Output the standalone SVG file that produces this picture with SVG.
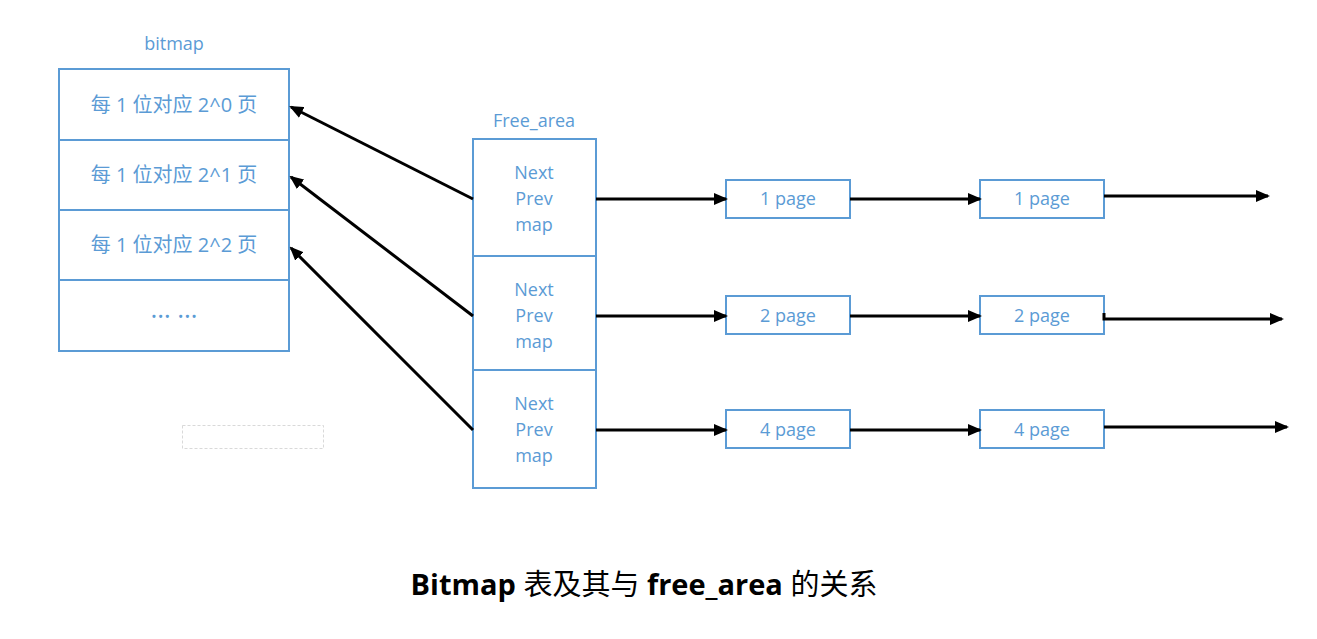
<svg xmlns="http://www.w3.org/2000/svg" width="1317" height="639" viewBox="0 0 1317 639">
<style>
.box{fill:#fff;stroke:#5b9bd5;stroke-width:2}
.t{font-family:"Open Sans","Noto Sans CJK SC",sans-serif;font-size:18px;fill:#5b9bd5;text-anchor:middle}
.tb{font-size:20px}
.c{stroke:#000;stroke-width:3;fill:none}
.cap{font-family:"Open Sans","Noto Sans CJK SC",sans-serif;font-size:29px;fill:#000;text-anchor:middle}
.b{font-weight:bold}
</style>
<defs>
<marker id="ah" markerWidth="14" markerHeight="12" refX="12" refY="6" orient="auto" markerUnits="userSpaceOnUse" viewBox="0 0 14 12">
<path d="M0,0 L14,6 L0,12 Z" fill="#000"/>
</marker>
</defs>
<rect width="1317" height="639" fill="#fff"/>
<g id="bitmap">
<text class="t" x="174" y="50">bitmap</text>
<rect class="box" x="59" y="69" width="230" height="282"/>
<line class="box" x1="59" y1="140" x2="289" y2="140"/>
<line class="box" x1="59" y1="210" x2="289" y2="210"/>
<line class="box" x1="59" y1="280" x2="289" y2="280"/>
<text class="t tb" x="174" y="112">每 1 位对应 2^0 页</text>
<text class="t tb" x="174" y="182">每 1 位对应 2^1 页</text>
<text class="t tb" x="174" y="252">每 1 位对应 2^2 页</text>
<text class="t" x="174" y="318" style="font-size:26px">… …</text>
</g>
<g id="free_area">
<text class="t" x="534" y="127">Free_area</text>
<rect class="box" x="473" y="139" width="123" height="349"/>
<line class="box" x1="473" y1="256" x2="596" y2="256"/>
<line class="box" x1="473" y1="370" x2="596" y2="370"/>
<text class="t" x="534" y="179">Next</text>
<text class="t" x="534" y="205">Prev</text>
<text class="t" x="534" y="231">map</text>
<text class="t" x="534" y="296">Next</text>
<text class="t" x="534" y="322">Prev</text>
<text class="t" x="534" y="348">map</text>
<text class="t" x="534" y="410">Next</text>
<text class="t" x="534" y="436">Prev</text>
<text class="t" x="534" y="462">map</text>
</g>
<g id="p1a"><rect class="box" x="726" y="180" width="124" height="38"/><text class="t" x="788" y="205">1 page</text></g>
<g id="p1b"><rect class="box" x="980" y="180" width="124" height="38"/><text class="t" x="1042" y="205">1 page</text></g>
<g id="p2a"><rect class="box" x="726" y="296" width="124" height="38"/><text class="t" x="788" y="322">2 page</text></g>
<g id="p2b"><rect class="box" x="980" y="296" width="124" height="38"/><text class="t" x="1042" y="322">2 page</text></g>
<g id="p4a"><rect class="box" x="726" y="410" width="124" height="38"/><text class="t" x="788" y="436">4 page</text></g>
<g id="p4b"><rect class="box" x="980" y="410" width="124" height="38"/><text class="t" x="1042" y="436">4 page</text></g>
<g id="blank"><rect x="182.5" y="425.5" width="141" height="23" fill="none" stroke="#d9d9d9" stroke-width="1" stroke-dasharray="3,2"/></g>
<g id="connectors">
<line class="c" x1="473" y1="199" x2="291" y2="107" marker-end="url(#ah)"/>
<line class="c" x1="473" y1="316" x2="291" y2="177" marker-end="url(#ah)"/>
<line class="c" x1="473" y1="430" x2="291" y2="248" marker-end="url(#ah)"/>
<line class="c" x1="596" y1="199" x2="726" y2="199" marker-end="url(#ah)"/>
<line class="c" x1="850" y1="199" x2="980" y2="199" marker-end="url(#ah)"/>
<line class="c" x1="1104" y1="196" x2="1268" y2="196" marker-end="url(#ah)"/>
<line class="c" x1="596" y1="316" x2="726" y2="316" marker-end="url(#ah)"/>
<line class="c" x1="850" y1="316" x2="980" y2="316" marker-end="url(#ah)"/>
<polyline class="c" points="1104,313 1104,319 1282,319" marker-end="url(#ah)"/>
<line class="c" x1="596" y1="430" x2="726" y2="430" marker-end="url(#ah)"/>
<line class="c" x1="850" y1="430" x2="980" y2="430" marker-end="url(#ah)"/>
<line class="c" x1="1104" y1="427" x2="1287" y2="427" marker-end="url(#ah)"/>
</g>
<text class="cap" x="644" y="595"><tspan class="b">Bitmap</tspan> 表及其与 <tspan class="b">free_area</tspan> 的关系</text>
</svg>
